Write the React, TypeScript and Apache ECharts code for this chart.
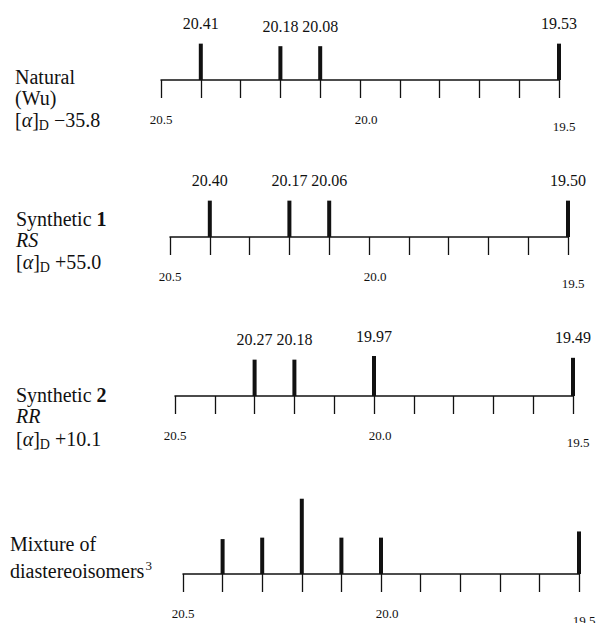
import React, { useEffect, useRef } from 'react';
import * as echarts from 'echarts';

// ---- data ----
const axisMin = 19.5;
const axisMax = 20.5;
const tickStep = 0.1;
const axisTickLabels = ['20.5', '20.0', '19.5'];

// Natural (Wu)
const naturalPositions = [20.4, 20.2, 20.1, 19.5];
const naturalHeights = [1.0, 0.93, 0.93, 1.0];
const naturalShifts = ['20.41', '20.18', '20.08', '19.53'];

// Synthetic 1 (RS)
const synth1Positions = [20.4, 20.2, 20.1, 19.5];
const synth1Heights = [1.0, 1.0, 1.0, 1.0];
const synth1Shifts = ['20.40', '20.17', '20.06', '19.50'];

// Synthetic 2 (RR)
const synth2Positions = [20.3, 20.2, 20.0, 19.5];
const synth2Heights = [1.0, 1.0, 1.1, 1.05];
const synth2Shifts = ['20.27', '20.18', '19.97', '19.49'];

// Mixture of diastereoisomers
const mixturePositions = [20.4, 20.3, 20.2, 20.1, 20.0, 19.5];
const mixtureHeights = [0.96, 1.0, 2.07, 1.0, 1.0, 1.17];
const mixtureShifts: string[] = [];

const naturalText = ['Natural', '(Wu)', '[{a|α}]{d|D} −35.8'];
const synth1Text = ['Synthetic {b|1}', '{i|RS}', '[{a|α}]{d|D} +55.0'];
const synth2Text = ['Synthetic {b|2}', '{i|RR}', '[{a|α}]{d|D} +10.1'];
const mixtureText = ['Mixture of', 'diastereoisomers{s|3}'];

// ---- styling / layout ----
const FONT = 'Liberation Serif';
const INK = '#111111';
const GRID_H = 80;
const Y_MAX = 2.2;

const layout = [
  { left: 161, width: 398, axisY: 80, textX: 15, textY: [77, 98, 120] },
  { left: 170, width: 398, axisY: 237, textX: 16, textY: [219, 240, 262] },
  { left: 175, width: 398, axisY: 396, textX: 16, textY: [395, 416, 439] },
  { left: 183, width: 396, axisY: 574, textX: 10, textY: [544, 571] },
];

const panels = [
  { positions: naturalPositions, heights: naturalHeights, labels: naturalShifts, text: naturalText },
  { positions: synth1Positions, heights: synth1Heights, labels: synth1Shifts, text: synth1Text },
  { positions: synth2Positions, heights: synth2Heights, labels: synth2Shifts, text: synth2Text },
  { positions: mixturePositions, heights: mixtureHeights, labels: mixtureShifts, text: mixtureText },
];

const sideRich = {
  a: { fontFamily: FONT, fontSize: 20, fontStyle: 'italic', color: INK },
  d: { fontFamily: FONT, fontSize: 14, color: INK, padding: [11, 0, 0, 0] },
  b: { fontFamily: FONT, fontSize: 20, fontWeight: 'bold', color: INK },
  i: { fontFamily: FONT, fontSize: 20, fontStyle: 'italic', color: INK },
  s: { fontFamily: FONT, fontSize: 13, color: INK, padding: [0, 0, 12, 1] },
};

function makeRenderItem(labels: string[]) {
  return (params: any, api: any) => {
    const x = api.value(0);
    const h = api.value(1);
    const base = api.coord([x, 0]);
    const top = api.coord([x, h]);
    const children: any[] = [
      {
        type: 'rect',
        shape: { x: base[0] - 2, y: top[1], width: 4, height: base[1] - top[1] },
        style: { fill: INK },
      },
    ];
    const lab = labels[params.dataIndex];
    if (lab) {
      children.push({
        type: 'text',
        x: base[0],
        y: top[1] - 20,
        style: {
          text: lab,
          fontFamily: FONT,
          fontSize: 16,
          fill: INK,
          align: 'center',
          verticalAlign: 'middle',
        },
      });
    }
    return { type: 'group', children };
  };
}

function axisLabelFormatter(v: number) {
  const s = v.toFixed(1);
  if (!axisTickLabels.includes(s)) return '';
  if (s === axisTickLabels[1]) return '{mid|' + s + '}';
  if (s === axisTickLabels[2]) return '{end|' + s + '}';
  return s;
}

function buildOption() {
  const grid = layout.map((l) => ({
    left: l.left,
    width: l.width,
    top: l.axisY - GRID_H,
    height: GRID_H,
    containLabel: false,
    outerBoundsMode: 'none',
  }));
  const xAxis = layout.map((l, i) => ({
    gridIndex: i,
    type: 'value',
    inverse: true,
    min: axisMin,
    max: axisMax,
    interval: tickStep,
    position: 'bottom',
    axisLine: { show: true, onZero: false, lineStyle: { color: INK, width: 1.5 } },
    axisTick: { show: true, length: 18, lineStyle: { color: INK, width: 1.3 } },
    splitLine: { show: false },
    axisLabel: {
      show: true,
      margin: 33,
      hideOverlap: false,
      showMinLabel: true,
      showMaxLabel: true,
      fontFamily: FONT,
      fontSize: 13,
      color: INK,
      formatter: axisLabelFormatter,
      rich: {
        mid: { fontFamily: FONT, fontSize: 13, color: INK, padding: [0, 0, 0, 12] },
        end: { fontFamily: FONT, fontSize: 13, color: INK, padding: [7, 0, 0, 10] },
      },
    },
  }));
  const yAxis = layout.map((l, i) => ({
    gridIndex: i,
    type: 'value',
    min: 0,
    max: Y_MAX,
    show: false,
  }));
  const series = panels.map((p, i) => ({
    type: 'custom',
    xAxisIndex: i,
    yAxisIndex: i,
    clip: false,
    silent: true,
    encode: { x: 0, y: 1 },
    data: p.positions.map((pos, k) => [pos, p.heights[k]]),
    renderItem: makeRenderItem(p.labels),
  }));
  const graphic: any[] = [];
  panels.forEach((p, i) => {
    p.text.forEach((t, k) => {
      graphic.push({
        type: 'text',
        x: layout[i].textX,
        y: layout[i].textY[k],
        style: {
          text: t,
          fontFamily: FONT,
          fontSize: 20,
          fill: INK,
          align: 'left',
          verticalAlign: 'middle',
          rich: sideRich,
        },
      });
    });
  });
  return {
    animation: false,
    backgroundColor: '#ffffff',
    textStyle: { fontFamily: FONT },
    grid,
    xAxis,
    yAxis,
    series,
    graphic,
  };
}

export default function App() {
  const ref = useRef<HTMLDivElement>(null);
  useEffect(() => {
    if (!ref.current) return;
    const chart = echarts.init(ref.current, null, { renderer: 'svg' });
    chart.setOption(buildOption() as any);
    return () => chart.dispose();
  }, []);
  return (
    <div
      ref={ref}
      style={{ position: 'fixed', left: 0, top: 0, width: 597, height: 623, background: '#fff' }}
    />
  );
}
